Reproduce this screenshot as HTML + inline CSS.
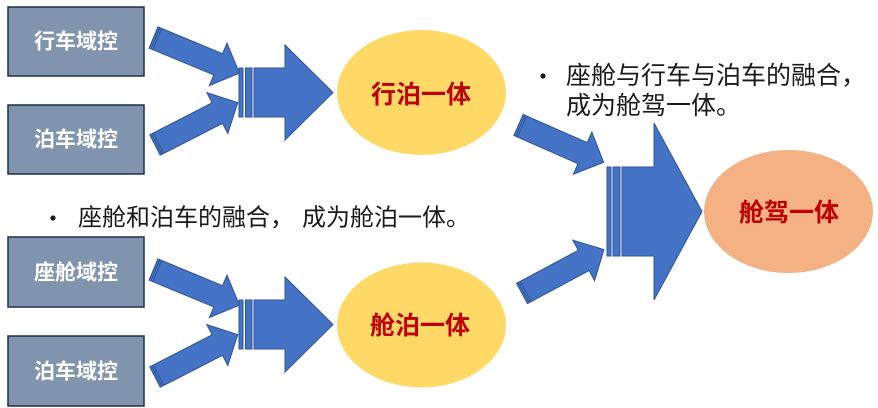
<!DOCTYPE html>
<html>
<head>
<meta charset="utf-8">
<style>
  html,body{margin:0;padding:0;background:#fff;}
  svg{display:block;}
  .box{fill:#8094ad;stroke:#1e2f48;stroke-width:1.5;}
  .bt{font-family:"Liberation Sans","Noto Sans CJK SC",sans-serif;font-weight:bold;font-size:21px;fill:#fff;}
  .et{font-family:"Liberation Sans","Noto Sans CJK SC",sans-serif;font-weight:bold;font-size:25px;fill:#c00000;}
  .tx{font-family:"Liberation Sans","Noto Sans CJK SC",sans-serif;fill:#1a1a1a;}
  .ar{fill:#4472c4;stroke:#2f5597;stroke-width:1;}
  .st{stroke:#2f5597;stroke-width:0.9;}
</style>
</head>
<body>
<svg width="878" height="408" viewBox="0 0 878 408" xmlns="http://www.w3.org/2000/svg">
  <defs>
    <g id="sa">
      <polygon class="ar" points="0,-11.5 70,-11.5 70,-23 93,0 70,23 70,11.5 0,11.5"/>
      <line class="st" x1="2" y1="-11.5" x2="2" y2="11.5"/>
      <line class="st" x1="4" y1="-11.5" x2="4" y2="11.5"/>
    </g>
  </defs>

  <!-- boxes -->
  <rect class="box" x="8" y="7" width="136" height="69"/>
  <text class="bt" x="76" y="42" text-anchor="middle" dominant-baseline="central">行车域控</text>
  <rect class="box" x="8" y="105" width="136" height="69"/>
  <text class="bt" x="76" y="140" text-anchor="middle" dominant-baseline="central">泊车域控</text>
  <rect class="box" x="8" y="237" width="136" height="70"/>
  <text class="bt" x="76" y="273" text-anchor="middle" dominant-baseline="central">座舱域控</text>
  <rect class="box" x="8" y="336" width="136" height="70"/>
  <text class="bt" x="76" y="372" text-anchor="middle" dominant-baseline="central">泊车域控</text>

  <!-- small arrows left upper -->
  <use href="#sa" transform="translate(153.5,37.5) rotate(22.5)"/>
  <use href="#sa" transform="translate(155,145) rotate(-27.1)"/>
  <!-- small arrows left lower -->
  <use href="#sa" transform="translate(153.5,269.5) rotate(22.5)"/>
  <use href="#sa" transform="translate(155,377) rotate(-27.1)"/>
  <!-- small arrows right -->
  <use href="#sa" transform="translate(518.5,125) rotate(23.7)"/>
  <use href="#sa" transform="translate(522,293.5) rotate(-28.2)"/>

  <!-- big arrow left upper -->
  <rect class="ar" x="239" y="68" width="4" height="49"/>
  <rect class="ar" x="245.5" y="68" width="6.5" height="49"/>
  <polygon class="ar" points="254,68 285,68 285,45 333,92.5 285,140 285,117 254,117"/>
  <!-- big arrow left lower -->
  <rect class="ar" x="239" y="300" width="4" height="49"/>
  <rect class="ar" x="245.5" y="300" width="6.5" height="49"/>
  <polygon class="ar" points="254,300 285,300 285,277 333,324.5 285,372 285,349 254,349"/>
  <!-- big arrow right -->
  <rect class="ar" x="607" y="167" width="4" height="89"/>
  <rect class="ar" x="613" y="167" width="7" height="89"/>
  <polygon class="ar" points="622,167 654,167 654,123 702,211.5 654,300 654,256 622,256"/>

  <!-- ellipses -->
  <ellipse cx="421.5" cy="92.5" rx="84.5" ry="62.5" fill="#fed966"/>
  <text class="et" x="421" y="95" text-anchor="middle" dominant-baseline="central">行泊一体</text>
  <ellipse cx="421.5" cy="325" rx="84.5" ry="62.5" fill="#fed966"/>
  <text class="et" x="420" y="326" text-anchor="middle" dominant-baseline="central">舱泊一体</text>
  <ellipse cx="788.5" cy="211.5" rx="84.5" ry="61.5" fill="#f4b183"/>
  <text class="et" x="789" y="213" text-anchor="middle" dominant-baseline="central">舱驾一体</text>

  <!-- text top right -->
  <circle cx="543" cy="76" r="2.6" fill="#1a1a1a"/>
  <text class="tx" x="566" y="76" font-size="25" dominant-baseline="central">座舱与行车与泊车的融合，</text>
  <text class="tx" x="566" y="106" font-size="25" dominant-baseline="central">成为舱驾一体。</text>

  <!-- text lower left -->
  <circle cx="53" cy="218" r="2.6" fill="#1a1a1a"/>
  <text class="tx" x="78" y="218" font-size="24" dominant-baseline="central">座舱和泊车的融合，</text>
  <text class="tx" x="302" y="218" font-size="24" dominant-baseline="central">成为舱泊一体。</text>
</svg>
</body>
</html>
